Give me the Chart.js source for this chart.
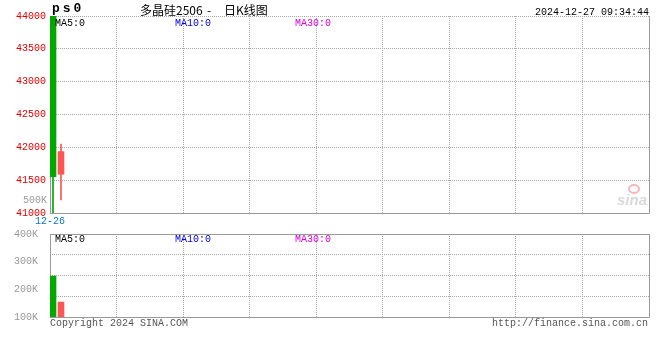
<!DOCTYPE html>
<html>
<head>
<meta charset="utf-8">
<script src="https://cdn.jsdelivr.net/npm/chart.js@4.4.1/dist/chart.umd.min.js"></script>
<style>
  body { margin: 0; background: #fff; }
  #wrap { position: relative; width: 660px; height: 360px; overflow: hidden;
          font-family: "Liberation Mono", "DejaVu Sans Mono", monospace; font-size: 10px; }
  canvas { position: absolute; left: 0; top: 0; }
  .t { position: absolute; white-space: pre; line-height: 12px; }
  .cjk { font-family: "Noto Sans CJK SC", sans-serif; font-size: 12px; line-height: 14px; }
</style>
</head>
<body>
<div id="wrap">
  <canvas id="kChart" width="660" height="360"></canvas>
  <canvas id="volChart" width="660" height="360"></canvas>

  <div class="t" style="left:52px;top:2px;font-size:13px;font-weight:bold;letter-spacing:3px;line-height:14px;">ps0</div>
  <div class="t cjk" style="left:140px;top:3px;">多晶硅2506</div>
  <div class="t cjk" style="left:207px;top:3px;">-</div>
  <div class="t cjk" style="left:224px;top:3px;">日K线图</div>
  <div class="t" style="right:11px;top:7px;">2024-12-27 09:34:44</div>

  <div class="t" style="left:55px;top:18px;color:#000;">MA5:0</div>
  <div class="t" style="left:175px;top:18px;color:#0000e0;">MA10:0</div>
  <div class="t" style="left:295px;top:18px;color:#e000e0;">MA30:0</div>

  <div class="t" style="left:55px;top:234px;color:#000;">MA5:0</div>
  <div class="t" style="left:175px;top:234px;color:#0000e0;">MA10:0</div>
  <div class="t" style="left:295px;top:234px;color:#e000e0;">MA30:0</div>

  <div class="t" style="left:50px;top:318px;color:#555;">Copyright 2024 SINA.COM</div>
  <div class="t" style="right:12px;top:318px;color:#555;">http://finance.sina.com.cn</div>

  <div style="position:absolute;left:628px;top:184px;width:8px;height:6px;border:2px solid #f3b8b8;border-radius:50%;"></div>
  <div class="t" style="left:617px;top:192px;font-family:'Liberation Sans',sans-serif;font-size:15px;font-style:italic;font-weight:bold;color:#d9d9d9;line-height:16px;">sina</div>
</div>

<script>
// daily bars
const days = ["12-26", "12-27"];
const open = [44000, 41590];
const close = [41555, 41935];
const high = [44000, 42050];
const low = [41000, 41200];
const volume = [248000, 154000];

const priceTicks = [41000, 41500, 42000, 42500, 43000, 43500, 44000];
const volTicks = [100000, 200000, 300000, 400000];

const MONO = "'Liberation Mono', 'DejaVu Sans Mono', monospace";
const UP = "#ff5555";
const DOWN = "#00a800";
const GRID = "#a8a8a8";

// 75 candle slots across the plot, 9 vertical divisions
const xMin = -0.375;
const xMax = 74.625;
const gridX = [];
for (let k = 0; k <= 9; k++) gridX.push(xMin + k * (xMax - xMin) / 9);

const colors = days.map((d, i) => close[i] >= open[i] ? UP : DOWN);

const frame = (withTop) => ({
    id: "frame",
    beforeDatasetsDraw(chart) {
        const { ctx, chartArea: a } = chart;
        const l = Math.round(a.left) + 0.5, r = Math.round(a.right) + 0.5;
        const t = Math.round(a.top) + 0.5, b = Math.round(a.bottom) + 0.5;
        ctx.save();
        ctx.strokeStyle = "#999";
        ctx.lineWidth = 1;
        ctx.beginPath();
        if (withTop) { ctx.moveTo(l, t); ctx.lineTo(r, t); }
        ctx.moveTo(r, t); ctx.lineTo(r, b);
        ctx.lineTo(l, b); ctx.lineTo(l, t);
        ctx.stroke();
        ctx.restore();
    }
});

const volTag = {
    id: "volTag",
    afterDraw(chart) {
        const { ctx, chartArea: a } = chart;
        ctx.save();
        ctx.font = "10px " + MONO;
        ctx.fillStyle = "#999";
        ctx.textAlign = "right";
        ctx.textBaseline = "middle";
        ctx.fillText("500K", a.left - 3, a.bottom - 12.5);
        ctx.restore();
    }
};

const xAxis = (showLabel) => ({
    type: "linear",
    min: xMin,
    max: xMax,
    offset: false,
    afterBuildTicks: ax => { ax.ticks = gridX.map(v => ({ value: v })); },
    afterFit: ax => { ax.height = showLabel ? 15 : 0; },
    grid: { color: GRID, drawTicks: false, offset: false },
    border: { display: false, dash: [1, 1] },
    ticks: {
        display: showLabel,
        autoSkip: false,
        maxRotation: 0,
        padding: 2,
        color: "#0a75c8",
        font: { family: MONO, size: 10 },
        callback: (v, i) => i === 0 ? days[0] : ""
    }
});

new Chart(document.getElementById("kChart"), {
    type: "bar",
    data: {
        datasets: [{
            data: days.map((d, i) => ({ x: i, y: [low[i], high[i]] })),
            backgroundColor: colors,
            barThickness: 1,
            grouped: false,
            order: 2
        }, {
            data: days.map((d, i) => ({ x: i, y: [open[i], close[i]] })),
            backgroundColor: colors,
            barThickness: 6,
            grouped: false,
            order: 1
        }]
    },
    options: {
        responsive: false,
        animation: false,
        devicePixelRatio: 1,
        layout: { padding: { top: 16, right: 11, bottom: 132, left: 0 } },
        plugins: { legend: { display: false }, tooltip: { enabled: false } },
        scales: {
            x: xAxis(true),
            y: {
                min: 41000,
                max: 44000,
                afterBuildTicks: ax => { ax.ticks = priceTicks.map(v => ({ value: v })); },
                afterFit: ax => { ax.width = 50; },
                grid: { color: GRID, drawTicks: false },
                border: { display: false, dash: [1, 1] },
                ticks: {
                    padding: 4,
                    color: "#e00000",
                    font: { family: MONO, size: 10 },
                    callback: v => String(v)
                }
            }
        }
    },
    plugins: [frame(false), volTag]
});

new Chart(document.getElementById("volChart"), {
    type: "bar",
    data: {
        datasets: [{
            data: days.map((d, i) => ({ x: i, y: volume[i] })),
            backgroundColor: colors,
            barThickness: 6
        }]
    },
    options: {
        responsive: false,
        animation: false,
        devicePixelRatio: 1,
        layout: { padding: { top: 234, right: 11, bottom: 43, left: 0 } },
        plugins: { legend: { display: false }, tooltip: { enabled: false } },
        scales: {
            x: xAxis(false),
            y: {
                min: 100000,
                max: 400000,
                afterBuildTicks: ax => { ax.ticks = volTicks.map(v => ({ value: v })); },
                afterFit: ax => { ax.width = 50; },
                grid: { display: false },
                border: { display: false },
                ticks: {
                    padding: 4,
                    color: "#999",
                    font: { family: MONO, size: 10 },
                    callback: v => (v / 1000) + "K"
                }
            },
            yGrid: {
                position: "right",
                min: 0,
                max: 4,
                afterFit: ax => { ax.width = 0; },
                grid: { color: GRID, drawTicks: false },
                border: { display: false, dash: [1, 1] },
                ticks: { display: false, stepSize: 1 }
            }
        }
    },
    plugins: [frame(true)]
});
</script>
</body>
</html>
